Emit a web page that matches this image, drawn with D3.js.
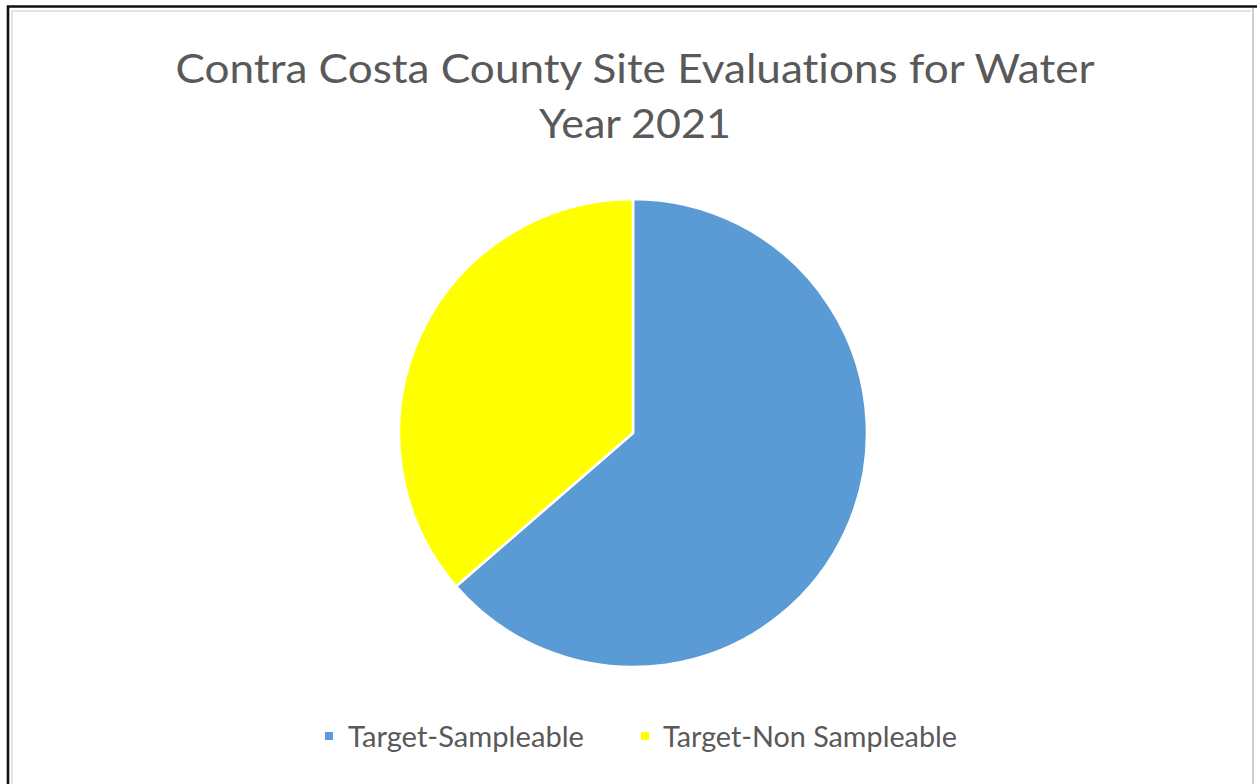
<!DOCTYPE html>
<html>
<head>
<meta charset="utf-8">
<script src="https://cdn.jsdelivr.net/npm/d3@7"></script>
<style>
  html, body { margin: 0; padding: 0; background: #ffffff; }
  svg { display: block; }
  text { font-variant-ligatures: none; font-feature-settings: "liga" 0; }
</style>
</head>
<body>
<script>
// Site evaluation counts, Contra Costa County, water year 2021
const categories = ["Target-Sampleable", "Target-Non Sampleable"];
const siteCounts = [7, 4];
const sliceColors = ["#5B9BD5", "#FFFF00"];
const titleLines = ["Contra Costa County Site Evaluations for Water", "Year 2021"];

const W = 1257, H = 784;
const svg = d3.select("body").append("svg").attr("width", W).attr("height", H);

svg.append("rect").attr("width", W).attr("height", H).attr("fill", "#ffffff");

// Frame: dark top/left edge, soft inner shadow, grey right edge
const frame = svg.append("g");
frame.append("path").attr("d", `M8,${H} L8,6.5 L${W},6.5`)
  .attr("fill", "none").attr("stroke", "#111").attr("stroke-width", 2.6);
frame.append("path").attr("d", `M12,${H} L12,11 L${W - 6},11`)
  .attr("fill", "none").attr("stroke", "#e4e4e4").attr("stroke-width", 2);
frame.append("line").attr("x1", 1253).attr("x2", 1253).attr("y1", 8).attr("y2", H)
  .attr("stroke", "#d0d0d0").attr("stroke-width", 2);

const font = "Lato, 'Open Sans', 'Noto Sans', sans-serif";

// Title, two centred lines
const titleSpec = [
  { y: 83, width: 919 },
  { y: 138, width: 192 }
];
svg.append("g").selectAll("text").data(titleLines).join("text")
  .attr("x", 635)
  .attr("y", (d, i) => titleSpec[i].y)
  .attr("text-anchor", "middle")
  .attr("font-family", font)
  .attr("font-size", 41)
  .attr("fill", "#595959")
  .attr("textLength", (d, i) => titleSpec[i].width)
  .attr("lengthAdjust", "spacingAndGlyphs")
  .text(d => d);

// Pie
const cx = 633, cy = 433, radius = 234;
const color = d3.scaleOrdinal().domain(categories).range(sliceColors);
const pie = d3.pie().sort(null).value(d => d.value);
const arc = d3.arc().innerRadius(0).outerRadius(radius);
const slices = pie(categories.map((c, i) => ({ name: c, value: siteCounts[i] })));

svg.append("g").attr("transform", `translate(${cx},${cy})`)
  .selectAll("path").data(slices).join("path")
  .attr("d", arc)
  .attr("fill", d => color(d.data.name))
  .attr("stroke", "#ffffff")
  .attr("stroke-width", 2.5)
  .attr("stroke-linejoin", "round");

// Legend
const legendItems = [
  { sx: 325, tx: 348, width: 236 },
  { sx: 641, tx: 663, width: 294 }
];
const legend = svg.append("g");
const li = legend.selectAll("g").data(categories).join("g");
li.append("rect")
  .attr("x", (d, i) => legendItems[i].sx)
  .attr("y", 732)
  .attr("width", 8).attr("height", 8)
  .attr("fill", d => color(d));
li.append("text")
  .attr("x", (d, i) => legendItems[i].tx)
  .attr("y", 746.5)
  .attr("font-family", font)
  .attr("font-size", 28)
  .attr("fill", "#595959")
  .attr("textLength", (d, i) => legendItems[i].width)
  .attr("lengthAdjust", "spacingAndGlyphs")
  .text(d => d);
</script>
</body>
</html>
